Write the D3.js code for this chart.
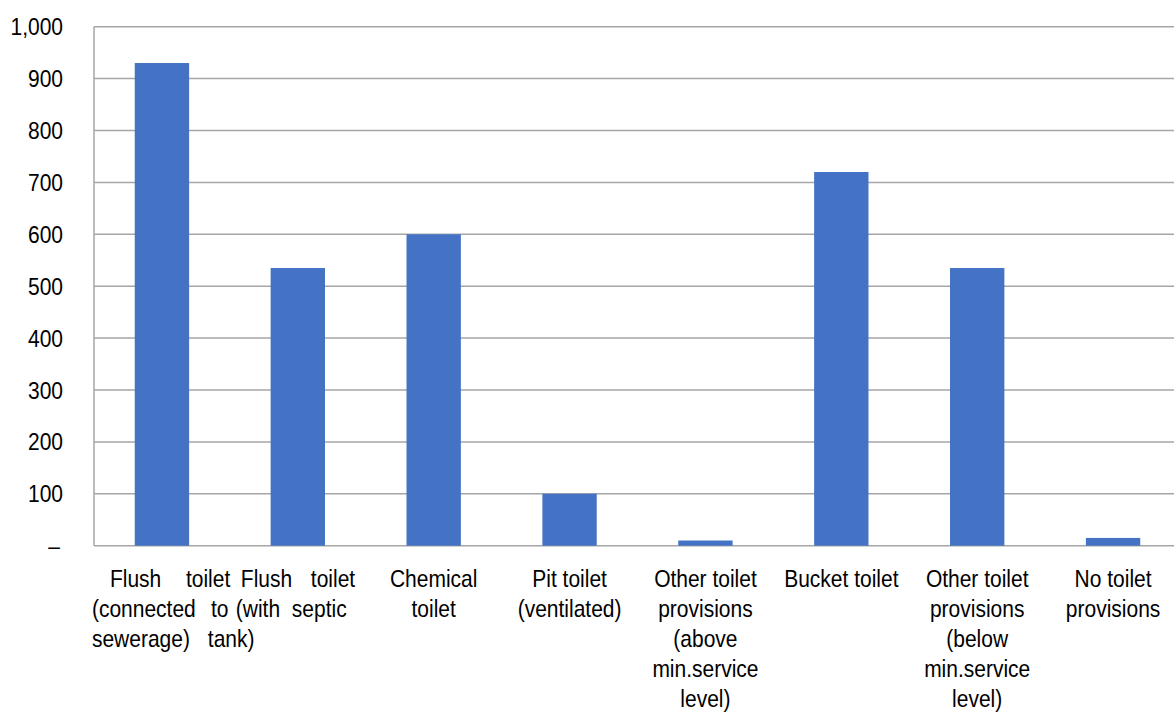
<!DOCTYPE html>
<html>
<head>
<meta charset="utf-8">
<script src="https://cdn.jsdelivr.net/npm/d3@7"></script>
<style>
  html, body { margin: 0; padding: 0; background: #fff; }
  svg { display: block; }
  text { font-family: "Liberation Sans", Arial, sans-serif; fill: #000; }
</style>
</head>
<body>
<svg id="chart" width="1174" height="713"></svg>
<script>
// Toilet facility types and counts
const categories = [
  "Flush toilet (connected to sewerage)",
  "Flush toilet (with septic tank)",
  "Chemical toilet",
  "Pit toilet (ventilated)",
  "Other toilet provisions (above min.service level)",
  "Bucket toilet",
  "Other toilet provisions (below min.service level)",
  "No toilet provisions"
];
const values = [930, 535, 600, 100, 10, 720, 535, 15];
const yTicks = [0, 100, 200, 300, 400, 500, 600, 700, 800, 900, 1000];

// Wrapped axis label lines for each category
const labelLines = [
  ["Flush toilet", "(connected to", "sewerage)"],
  ["Flush toilet", "(with septic", "tank)"],
  ["Chemical", "toilet"],
  ["Pit toilet", "(ventilated)"],
  ["Other toilet", "provisions", "(above", "min.service", "level)"],
  ["Bucket toilet"],
  ["Other toilet", "provisions", "(below", "min.service", "level)"],
  ["No toilet", "provisions"]
];

// The two first labels are set justified, word by word (x offsets from the bar centre)
const justified = {
  0: [[["Flush", -52], ["toilet", 24]], [["(connected", -70], ["to", 49]], [["sewerage)", -70]]],
  1: [[["Flush", -57], ["toilet", 13]], [["(with", -62], ["septic", -6]], [["tank)", -90]]]
};

const svg = d3.select("#chart");
const plotLeft = 94, plotRight = 1181, plotTop = 26.7, plotBottom = 545.7;
const fontSize = 24, squeeze = 0.875, lineH = 30;

const x = d3.scaleBand().domain(categories).range([plotLeft, plotRight])
  .paddingInner(0.6).paddingOuter(0.3);
const y = d3.scaleLinear().domain([0, 1000]).range([plotBottom, plotTop]);

const grey = "#a6a6a6";

// gridlines
svg.append("g").selectAll("line").data(yTicks).join("line")
  .attr("x1", plotLeft).attr("x2", plotRight)
  .attr("y1", d => y(d)).attr("y2", d => y(d))
  .attr("stroke", grey).attr("stroke-width", 1.5);

// value axis line
svg.append("line")
  .attr("x1", plotLeft).attr("x2", plotLeft).attr("y1", plotTop).attr("y2", plotBottom)
  .attr("stroke", grey).attr("stroke-width", 1.5);

// bars
svg.append("g").selectAll("rect").data(values).join("rect")
  .attr("x", (d, i) => x(categories[i]))
  .attr("width", x.bandwidth())
  .attr("y", d => y(d))
  .attr("height", d => y(0) - y(d))
  .attr("fill", "#4472C4");

// y tick labels
const fmt = d3.format(",");
svg.append("g").selectAll("text").data(yTicks).join("text")
  .attr("transform", d => `translate(${d === 0 ? 60 : 63},${y(d) + 8.5}) scale(${squeeze},1)`)
  .attr("text-anchor", "end")
  .style("font-size", fontSize + "px")
  .text(d => d === 0 ? "–" : fmt(d));

// category labels
const firstBase = 587;
categories.forEach((c, i) => {
  const cx = x(c) + x.bandwidth() / 2;
  if (justified[i]) {
    justified[i].forEach((words, li) => {
      words.forEach(([w, off]) => {
        svg.append("text")
          .attr("transform", `translate(${cx + off},${firstBase + li * lineH}) scale(${squeeze},1)`)
          .attr("text-anchor", "start")
          .style("font-size", fontSize + "px")
          .text(w);
      });
    });
  } else {
    labelLines[i].forEach((line, li) => {
      svg.append("text")
        .attr("transform", `translate(${cx},${firstBase + li * lineH}) scale(${squeeze},1)`)
        .attr("text-anchor", "middle")
        .style("font-size", fontSize + "px")
        .text(line);
    });
  }
});
</script>
</body>
</html>
